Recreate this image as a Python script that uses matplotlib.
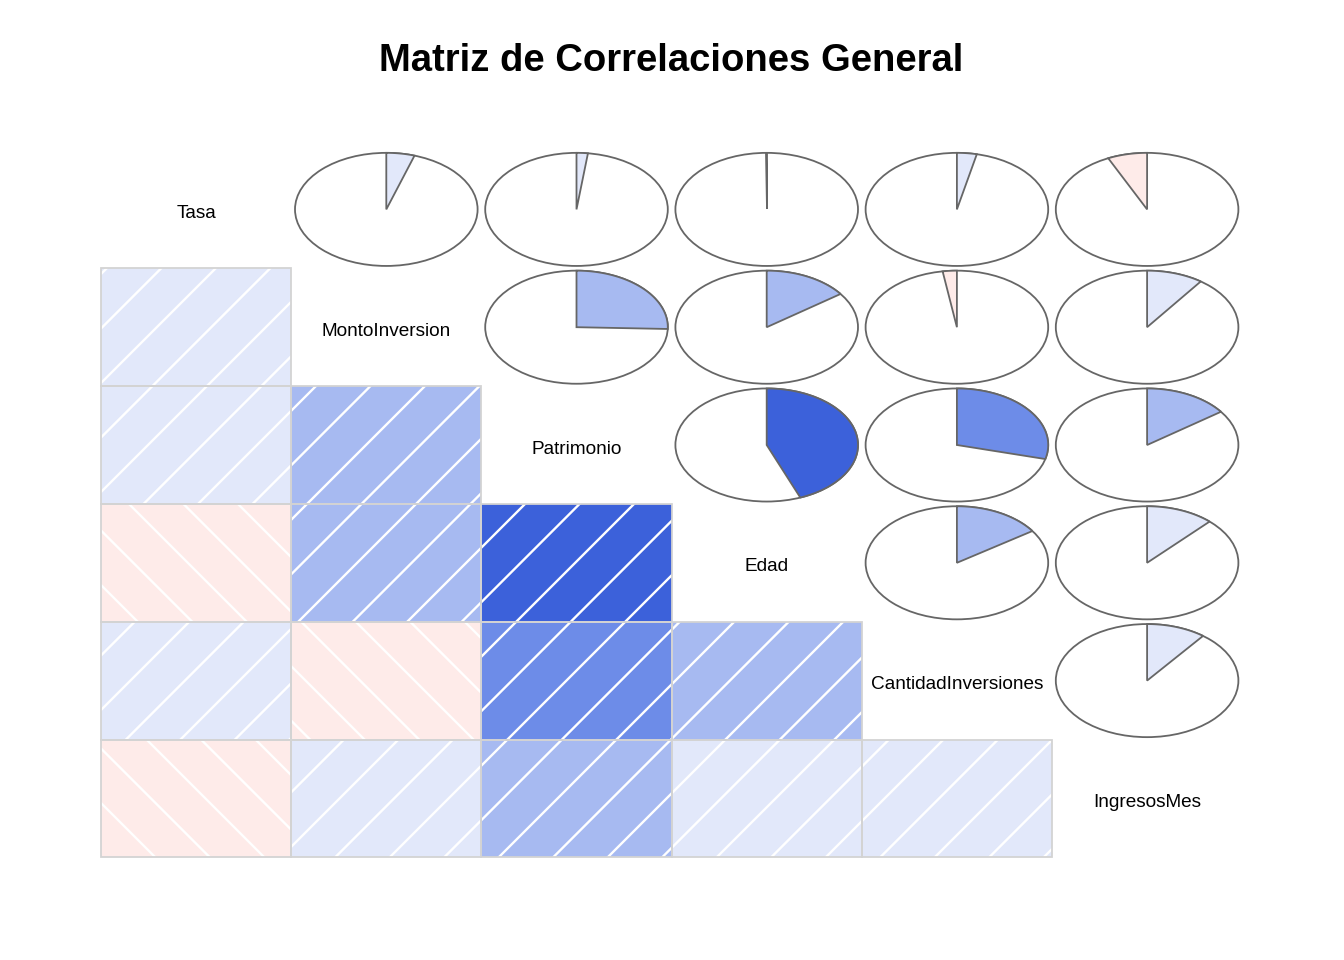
import numpy as np
import matplotlib
matplotlib.use("Agg")
import matplotlib.pyplot as plt
from matplotlib.patches import Rectangle, Ellipse, Polygon
from matplotlib.colors import to_rgb

plt.rcParams['font.family'] = ['Liberation Sans', 'DejaVu Sans']

variables = ["Tasa", "MontoInversion", "Patrimonio", "Edad",
             "CantidadInversiones", "IngresosMes"]

# correlations (upper triangle, row by row)
corr = np.array([
    [1.000, 0.050, 0.020, -0.002, 0.035, -0.070],
    [0.050, 1.000, 0.255, 0.150, -0.025, 0.100],
    [0.020, 0.255, 1.000, 0.440, 0.290, 0.150],
    [-0.002, 0.150, 0.440, 1.000, 0.155, 0.120],
    [0.035, -0.025, 0.290, 0.155, 1.000, 0.105],
    [-0.070, 0.100, 0.150, 0.120, 0.105, 1.000],
])

title = "Matriz de Correlaciones General"

# colour ramp like corrgram: red, salmon, white, royalblue, navy -> 14 bins
ramp = [to_rgb(c) for c in ["red", "salmon", "white", "royalblue", "navy"]]
ncol = 14
pos = np.linspace(0, 1, len(ramp))
pal = [tuple(np.interp(t, pos, [c[k] for c in ramp]) for k in range(3))
       for t in np.linspace(0, 1, ncol)]


def shade(r):
    idx = int(np.clip(np.floor((r + 1) / 2 * ncol), 0, ncol - 1))
    return pal[idx]


fig = plt.figure(figsize=(13.44, 9.6), dpi=100)
ax = fig.add_axes([0, 0, 1, 1])
ax.set_xlim(0, 1344)
ax.set_ylim(960, 0)
ax.axis("off")

x0, y0 = 101.0, 150.5
cw, ch = 190.2, 117.8
n = len(variables)
gap = 54.5

for i in range(n):
    for j in range(n):
        left = x0 + j * cw
        top = y0 + i * ch
        cx, cy = left + cw / 2, top + ch / 2
        r = corr[i, j]
        if i == j:
            ax.text(cx, cy + 4, variables[i], ha="center", va="center",
                    fontsize=13.7)
        elif i > j:
            col = shade(r)
            rect = Rectangle((left, top), cw, ch, facecolor=col,
                             edgecolor="none", zorder=1)
            ax.add_patch(rect)
            # white diagonal lines
            if r >= 0:
                base = 484.0
                lo, hi = left + top, left + cw + top + ch
            else:
                base = -484.0
                lo, hi = left - (top + ch), left + cw - top
            k0 = np.floor((lo - base) / gap) - 1
            k1 = np.ceil((hi - base) / gap) + 1
            for k in np.arange(k0, k1 + 1):
                c = base + k * gap
                xs = np.array([left - 5, left + cw + 5])
                ys = c - xs if r >= 0 else xs - c
                ln, = ax.plot(xs, ys, color="white", lw=1.7, zorder=2)
                ln.set_clip_path(rect)
            ax.add_patch(Rectangle((left, top), cw, ch, facecolor="none",
                                   edgecolor="#d3d3d3", lw=1.3, zorder=3))
        else:
            rx, ry = 0.96 * cw / 2, 0.96 * ch / 2
            ax.add_patch(Ellipse((cx, cy), 2 * rx, 2 * ry, facecolor="white",
                                 edgecolor="#666666", lw=1.3, zorder=2))
            ang = np.linspace(0, 2 * np.pi * r, 200)
            px = cx + rx * np.sin(ang)
            py = cy - ry * np.cos(ang)
            pts = np.column_stack([np.r_[cx, px], np.r_[cy, py]])
            ax.add_patch(Polygon(pts, closed=True, facecolor=shade(r),
                                 edgecolor="#666666", lw=1.3, zorder=3))

ax.text(671, 61, title, ha="center", va="center", fontsize=27.5,
        fontweight="bold")

fig.savefig("out.png", dpi=100)
